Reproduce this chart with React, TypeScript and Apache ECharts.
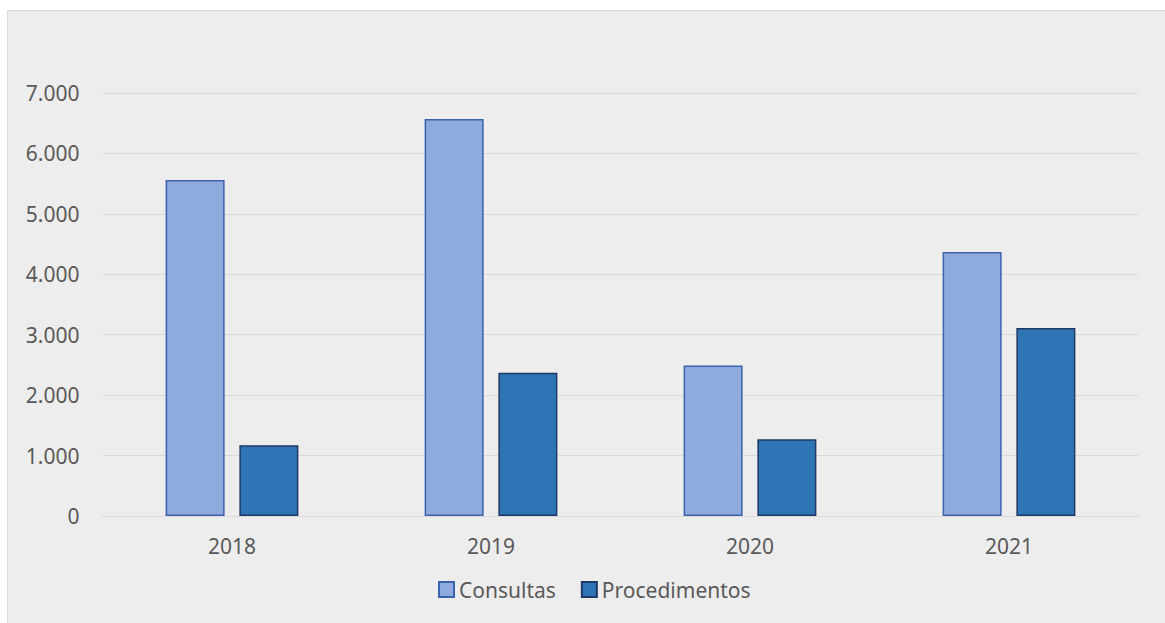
import React, { useEffect, useRef } from "react";
import * as echarts from "echarts";

const categories = ["2018", "2019", "2020", "2021"];
const consultas = [5560, 6570, 2490, 4370];
const procedimentos = [1170, 2370, 1270, 3110];
const seriesNames = ["Consultas", "Procedimentos"];

const fmt = (v: number) => String(v).replace(/\B(?=(\d{3})+(?!\d))/g, ".");

export default function App() {
  const ref = useRef<HTMLDivElement>(null);
  useEffect(() => {
    const chart = echarts.init(ref.current!, null, { renderer: "svg" });
    const font = "'Noto Sans', sans-serif";
    chart.setOption({
      animation: false,
      backgroundColor: "#ffffff",
      textStyle: { fontFamily: font },
      graphic: [
        {
          type: "rect",
          shape: { x: 7.5, y: 10.5, width: 1170, height: 630 },
          style: { fill: "#ededed", stroke: "#d9d9d9", lineWidth: 1 },
          z: -10,
        },
      ],
      grid: { left: 102.5, right: 26.5, top: 93, bottom: 107 },
      legend: {
        data: seriesNames,
        left: 433,
        top: 574,
        icon: "rect",
        itemWidth: 15,
        itemHeight: 15,
        itemGap: 25,
        textStyle: { fontFamily: font, fontSize: 21, color: "#595959" },
      },
      xAxis: {
        type: "category",
        data: categories,
        axisTick: { show: false },
        axisLine: { lineStyle: { color: "#d9d9d9", width: 1 } },
        axisLabel: { fontFamily: font, fontSize: 21, color: "#595959", margin: 19 },
      },
      yAxis: {
        type: "value",
        min: 0,
        max: 7000,
        interval: 1000,
        axisLine: { show: false },
        axisTick: { show: false },
        splitLine: { lineStyle: { color: "#d9d9d9", width: 1 } },
        axisLabel: {
          fontFamily: font,
          fontSize: 21,
          color: "#595959",
          margin: 23,
          formatter: (v: number) => fmt(v),
        },
      },
      series: [
        {
          name: seriesNames[0],
          type: "bar",
          data: consultas,
          barWidth: 59,
          barGap: "25%",
          itemStyle: { color: "#8faadc", borderColor: "#3a62ad", borderWidth: 1.5 },
        },
        {
          name: seriesNames[1],
          type: "bar",
          data: procedimentos,
          barWidth: 59,
          itemStyle: { color: "#2e75b6", borderColor: "#1f3864", borderWidth: 1.5 },
        },
      ],
    });
    return () => chart.dispose();
  }, []);
  return (
    <div
      ref={ref}
      style={{ position: "fixed", left: 0, top: 0, width: 1165, height: 623 }}
    />
  );
}
